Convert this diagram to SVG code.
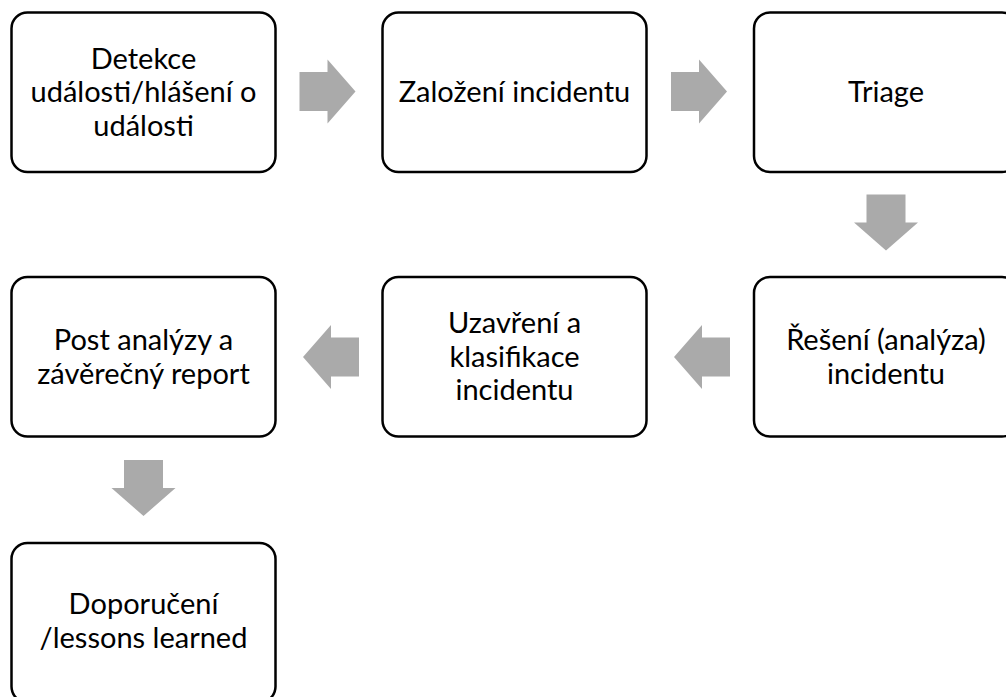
<svg xmlns="http://www.w3.org/2000/svg" xmlns:xlink="http://www.w3.org/1999/xlink" width="1006" height="697" viewBox="0 0 1006 697">
  <style>
    .box { fill: #ffffff; stroke: #000000; stroke-width: 2.5; }
    .lbl { font-family: Lato, "Open Sans", "Liberation Sans", sans-serif; font-size: 29px; fill: #000000; text-anchor: middle; }
    .arrow { fill: #aaaaaa; }
  </style>
  <defs>
    <!-- block arrow pointing right, origin at the tail centre -->
    <path id="blockArrow" d="M0,-19.5 H28 V-32 L56,0 L28,32 V19.5 H0 Z"/>
  </defs>
  <rect width="1006" height="697" fill="#ffffff"/>

  <g id="connectors" class="arrow">
    <use xlink:href="#blockArrow" transform="translate(299.5,91.5)"/>
    <use xlink:href="#blockArrow" transform="translate(671,91.5)"/>
    <use xlink:href="#blockArrow" transform="translate(886,194.5) rotate(90)"/>
    <use xlink:href="#blockArrow" transform="translate(730,357) rotate(180)"/>
    <use xlink:href="#blockArrow" transform="translate(359,357) rotate(180)"/>
    <use xlink:href="#blockArrow" transform="translate(143.5,460) rotate(90)"/>
  </g>

  <g id="detekce">
    <rect class="box" x="11.5" y="12.5" width="264" height="159.5" rx="16"/>
    <text class="lbl" x="143.5" y="68.5">Detekce</text>
    <text class="lbl" x="143.5" y="102">události/hlášení o</text>
    <text class="lbl" x="143.5" y="135.5">události</text>
  </g>

  <g id="zalozeni">
    <rect class="box" x="382.5" y="12.5" width="264" height="159.5" rx="16"/>
    <text class="lbl" x="514.5" y="102">Založení incidentu</text>
  </g>

  <g id="triage">
    <rect class="box" x="754" y="12.5" width="264" height="159.5" rx="16"/>
    <text class="lbl" x="886" y="102">Triage</text>
  </g>

  <g id="reseni">
    <rect class="box" x="754" y="277" width="264" height="159.5" rx="16"/>
    <text class="lbl" x="886" y="350">Řešení (analýza)</text>
    <text class="lbl" x="886" y="383.5">incidentu</text>
  </g>

  <g id="uzavreni">
    <rect class="box" x="382.5" y="277" width="264" height="159.5" rx="16"/>
    <text class="lbl" x="514.5" y="333">Uzavření a</text>
    <text class="lbl" x="514.5" y="366.5">klasifikace</text>
    <text class="lbl" x="514.5" y="400">incidentu</text>
  </g>

  <g id="post-analyzy">
    <rect class="box" x="11.5" y="277" width="264" height="159.5" rx="16"/>
    <text class="lbl" x="143.5" y="350">Post analýzy a</text>
    <text class="lbl" x="143.5" y="383.5">závěrečný report</text>
  </g>

  <g id="doporuceni">
    <rect class="box" x="11.5" y="543" width="264" height="159.5" rx="16"/>
    <text class="lbl" x="143.5" y="614">Doporučení</text>
    <text class="lbl" x="143.5" y="647.5">/lessons learned</text>
  </g>
</svg>
